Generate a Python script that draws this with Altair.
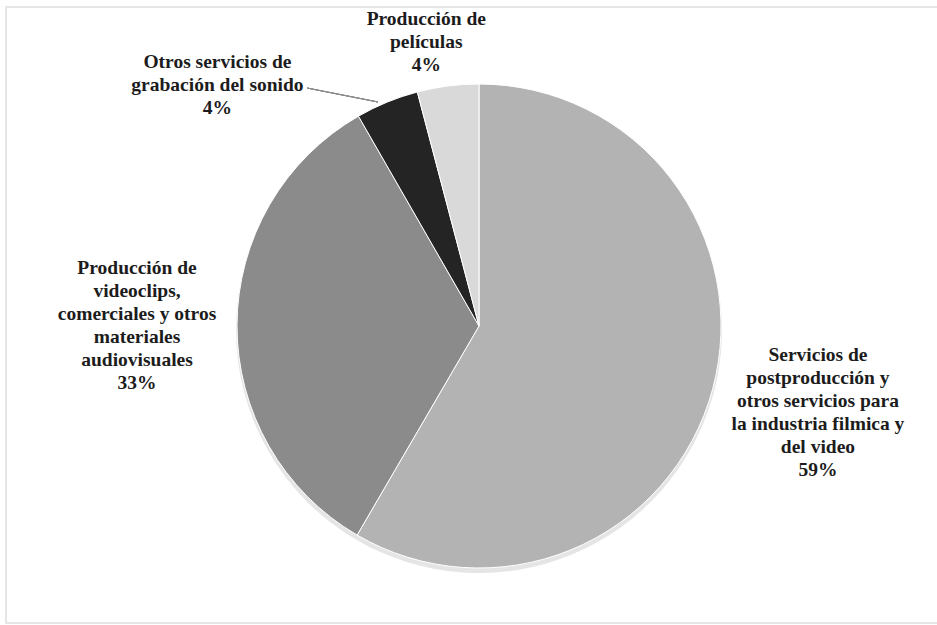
import altair as alt
import pandas as pd

categories = [
    "Servicios de postproducción y otros servicios para la industria fílmica y del video",
    "Producción de videoclips, comerciales y otros materiales audiovisuales",
    "Otros servicios de grabación del sonido",
    "Producción de películas",
]
values = [58.4, 33.3, 4.2, 4.1]
pct_labels = ["59%", "33%", "4%", "4%"]
label_lines = [
    ["Servicios de", "postproducción y", "otros servicios para", "la industria filmica y", "del video"],
    ["Producción de", "videoclips,", "comerciales y otros", "materiales", "audiovisuales"],
    ["Otros servicios de", "grabación del sonido"],
    ["Producción de", "películas"],
]
colors = ["#b3b3b3", "#8b8b8b", "#242424", "#d9d9d9"]

df = pd.DataFrame({
    "cat": categories,
    "value": values,
    "order": list(range(len(categories))),
    "label": ["\n".join(l + [p]) for l, p in zip(label_lines, pct_labels)],
})

W, H = 900, 598
R = 242
FONT = "Liberation Serif"
LH = 23

base = alt.Chart(df).encode(
    theta=alt.Theta("value:Q", stack=True),
    order=alt.Order("order:Q"),
)

shadow = base.mark_arc(outerRadius=R + 1, color="#000000", opacity=0.10).encode(
    y=alt.value(H / 2 + 4)
)

pie = base.mark_arc(outerRadius=R, stroke="#ffffff", strokeWidth=1).encode(
    color=alt.Color("cat:N", scale=alt.Scale(domain=categories, range=colors), legend=None)
)

# per-label placement (layout only): radius, dx, dy of block centre
placements = [(348, 3, -4), (342, 0, 1), (270, -159, 9), (270, -18, -16)]

text_layers = []
for i, (r, dx, dy) in enumerate(placements):
    n_lines = len(label_lines[i]) + 1
    t = base.transform_calculate(
        txt=f"datum.order == {i} ? datum.label : ''"
    ).mark_text(
        radius=r, dx=dx, dy=dy - (n_lines - 1) * LH / 2, font=FONT, fontSize=19.5,
        fontWeight="bold", color="#1c1c1c", lineBreak="\n", lineHeight=LH,
        align="center", baseline="middle",
    ).encode(text="txt:N")
    text_layers.append(t)

leader = alt.Chart(df).mark_rule(color="#8c8c8c", strokeWidth=1).encode(
    x=alt.value(307 - 29), y=alt.value(88 - 27), x2=alt.value(378 - 29), y2=alt.value(102 - 27)
)

frame = alt.Chart(df).mark_rect(fill=None, stroke="#e6e6e6", strokeWidth=2).encode(
    x=alt.value(6 - 29), y=alt.value(7 - 27), x2=alt.value(950 - 29), y2=alt.value(623 - 27)
)

chart = alt.layer(frame, shadow, pie, leader, *text_layers).properties(
    width=W, height=H,
    padding={"left": 29, "top": 27, "right": 8, "bottom": 0},
    autosize=alt.AutoSizeParams(type="none"),
    background="#ffffff",
).configure_view(stroke=None)

chart.save("out.html", embed_options={"renderer": "svg", "actions": False})
